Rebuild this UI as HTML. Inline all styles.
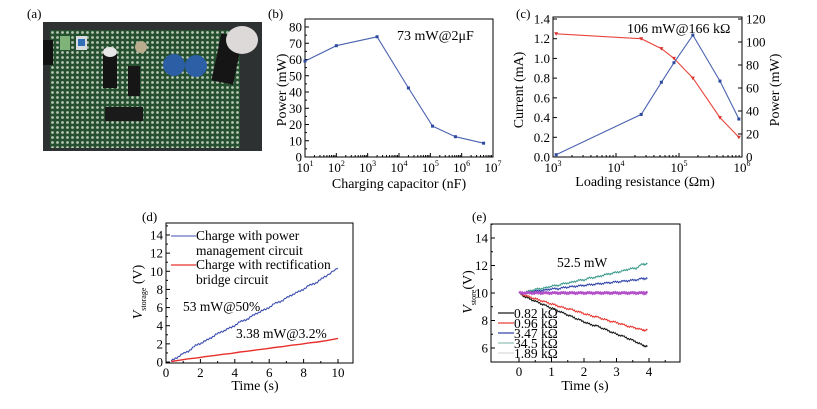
<!DOCTYPE html>
<html><head><meta charset="utf-8">
<style>
html,body{margin:0;padding:0;background:#fff;}
svg, svg text{font-family:"Liberation Serif","DejaVu Serif","Times New Roman",serif;}
</style></head>
<body>
<svg id="fig" width="817" height="404" viewBox="0 0 817 404" xmlns="http://www.w3.org/2000/svg" font-family="Liberation Serif, DejaVu Serif, serif">
  <defs>
    <pattern id="holes" width="5" height="5" patternUnits="userSpaceOnUse">
      <rect width="5" height="5" fill="#24502f"/>
      <circle cx="2.5" cy="2.5" r="1.4" fill="#b8c4b4"/>
    </pattern>
  </defs>
  <text x="27" y="18" font-size="13">(a)</text>
  <g>
    <rect x="43" y="22" width="219" height="129" fill="#2e3132"/>
    <rect x="50" y="30" width="190" height="118" fill="url(#holes)"/>
    <rect x="43" y="40" width="10" height="25" fill="#121212"/>
    <rect x="60" y="36" width="10" height="14" fill="#7fb37a"/>
    <rect x="76" y="36" width="11" height="14" fill="#d9dcdf"/>
    <rect x="78" y="39" width="7" height="7" fill="#2f6fb5"/>
    <rect x="103" y="50" width="14" height="38" fill="#141414"/>
    <ellipse cx="110" cy="52" rx="7" ry="5" fill="#e6e6e6"/>
    <ellipse cx="141" cy="47" rx="6" ry="6" fill="#b9ad8e"/>
    <rect x="105" y="107" width="38" height="14" fill="#1a1a1a"/>
    <circle cx="174" cy="65" r="11" fill="#2b5ea4"/>
    <circle cx="196" cy="66" r="11" fill="#2d5fa6"/>
    <rect x="216" y="35" width="22" height="48" fill="#151515" transform="rotate(12 227 60)"/>
    <ellipse cx="242" cy="40" rx="16" ry="14" fill="#ddd9d8"/>
    <rect x="128" y="66" width="12" height="30" fill="#161616"/>
  </g>
  <text x="268" y="18" font-size="13">(b)</text>
  <g id="gb"></g>
  <text x="516" y="18" font-size="13">(c)</text>
  <g id="gc"></g>
  <text x="142" y="221" font-size="13">(d)</text>
  <g id="gd"></g>
  <text x="472" y="221" font-size="13">(e)</text>
  <g id="ge"></g>
</svg>
<script>
const bCapLog = [1, 2, 3.3, 4.3, 5.07, 5.8, 6.7];
const bPower = [59, 68.5, 74, 42.5, 19, 12.5, 8.5];
const bYTicks = [0,10,20,30,40,50,60,70,80];
const bXTicks = [1,2,3,4,5,6,7];

const cResLog = [3.05, 4.4, 4.72, 4.92, 5.22, 5.65, 5.95];
const cCurrent = [1.25, 1.2, 1.1, 1.0, 0.8, 0.4, 0.2];
const cPower = [2, 37, 65, 82, 106, 66, 33];
const cYTicks = [0,0.2,0.4,0.6,0.8,1.0,1.2,1.4];
const cY2Ticks = [0,20,40,60,80,100,120];
const cXTicks = [3,4,5,6];

const dTime = [0.3,0.8,1.3,1.8,2.3,2.8,3.3,3.8,4.3,4.8,5.3,5.8,6.3,6.8,7.3,7.8,8.3,8.8,9.3,10];
const dPM = [0.1,0.7,1.2,1.9,2.3,2.9,3.4,3.8,4.4,4.8,5.4,5.8,6.4,6.8,7.4,7.8,8.4,8.8,9.5,10.3];
const dBridge = [0.05,0.2,0.35,0.45,0.6,0.7,0.85,0.95,1.1,1.2,1.35,1.45,1.6,1.7,1.85,1.95,2.1,2.2,2.35,2.6];
const dYTicks = [0,2,4,6,8,10,12,14];
const dXTicks = [0,2,4,6,8,10];

const eTime = [0,0.2,0.4,0.6,0.8,1,1.2,1.4,1.6,1.8,2,2.2,2.4,2.6,2.8,3,3.2,3.4,3.6,3.8,3.95];
const eTeal = [10,10.05,10.2,10.3,10.35,10.5,10.55,10.7,10.75,10.9,10.95,11.1,11.15,11.3,11.4,11.5,11.6,11.75,11.8,12.1,12.1];
const eBlue = [10,10.05,10.1,10.15,10.2,10.3,10.3,10.4,10.45,10.5,10.55,10.6,10.65,10.7,10.75,10.8,10.85,10.9,10.95,11.05,11.05];
const ePurple = [10,10,10,10,10,10,10,10,10,10,10,10,10,10,10,10,10,10,10,10,10];
const eRed = [10,9.8,9.65,9.5,9.35,9.2,9.05,8.9,8.8,8.65,8.5,8.35,8.25,8.1,7.95,7.85,7.7,7.55,7.45,7.3,7.3];
const eBlack = [10,9.7,9.5,9.3,9.1,8.9,8.7,8.5,8.3,8.1,7.9,7.7,7.6,7.4,7.2,7.0,6.85,6.65,6.45,6.2,6.1];
const eYTicks = [6,8,10,12,14];
const eXTicks = [0,1,2,3,4];
const eLegend = ["0.82 kΩ","0.96 kΩ","3.47 kΩ","34.5 kΩ","1.89 kΩ"];

const NS = "http://www.w3.org/2000/svg";
function mk(parent, tag, attrs, text){
  const e = document.createElementNS(NS, tag);
  for (const k in attrs) e.setAttribute(k, attrs[k]);
  if (text !== undefined) e.textContent = text;
  parent.appendChild(e);
  return e;
}
function lin(d0,d1,r0,r1){ return v => r0 + (v-d0)/(d1-d0)*(r1-r0); }
function pathD(xs, ys, sx, sy){ return xs.map((x,i)=>(i?'L':'M')+sx(x).toFixed(1)+','+sy(ys[i]).toFixed(1)).join(''); }
function noisyD(xs, ys, sx, sy, amp){
  let d = '';
  const pat = [0,-1,0.4,-0.6,1,-0.2,0.7,-0.9];
  let c = 0;
  for (let i=0;i<xs.length-1;i++){
    const n = 6;
    for (let k=0;k<n;k++){
      const t = k/n;
      const x = sx(xs[i]+(xs[i+1]-xs[i])*t);
      const y = sy(ys[i]+(ys[i+1]-ys[i])*t) + amp*pat[(c++)%pat.length];
      d += (d?'L':'M')+x.toFixed(1)+','+y.toFixed(1);
    }
  }
  d += 'L'+sx(xs[xs.length-1]).toFixed(1)+','+sy(ys[ys.length-1]).toFixed(1);
  return d;
}
function frame(g, x0,y0,x1,y1){
  const r = mk(g,'rect',{x:x0,y:y0,width:x1-x0,height:y1-y0,fill:'none',stroke:'#000','stroke-width':1});
  
  
}
function tickX(g, x, y, len){ mk(g,'line',{x1:x,y1:y,x2:x,y2:y-len,stroke:'#000','stroke-width':1}); }
function tickY(g, x, y, len){ mk(g,'line',{x1:x,y1:y,x2:x+len,y2:y,stroke:'#000','stroke-width':1}); }
function logLabel(g, x, y, p){
  const t = mk(g,'text',{x:x,y:y,'font-size':13,'text-anchor':'middle'});
  
  
  mk(t,'tspan',{},'10');
  mk(t,'tspan',{'font-size':8,dy:-6},String(p));
}
function marker(g,x,y,color,shape){
  if (shape==='tri'){
    mk(g,'path',{d:`M${x-2},${y-1.5}L${x+2},${y-1.5}L${x},${y+2}Z`,fill:color});
  } else {
    mk(g,'rect',{x:x-1.5,y:y-1.5,width:3,height:3,fill:color});
  }
}

(function(){
  const g = document.getElementById('gb');
  const x0=305,x1=493,y0=19,y1=157;
  const sx = lin(1,7,x0,x1), sy = lin(0,80,157,27);
  frame(g,x0,y0,x1,y1);
  bXTicks.forEach(v=>{ tickX(g,sx(v),y1,4); logLabel(g,sx(v),y1+15,v);
    if (v<7) for(let m=2;m<10;m++){ tickX(g,sx(v+Math.log10(m)),y1,2); } });
  bYTicks.forEach(v=>{ tickY(g,x0,sy(v),4);
    const t=mk(g,'text',{x:x0-3,y:sy(v)+4.5,'font-size':13,'text-anchor':'end'},String(v));
     
    if (v<80) tickY(g,x0,sy(v+5),2); });
  const p = mk(g,'path',{d:pathD(bCapLog,bPower,sx,sy),fill:'none',stroke:'#4a63b0','stroke-width':1.1});
   
  bCapLog.forEach((v,i)=>marker(g,sx(v),sy(bPower[i]),'#2d4a9e'));
  const a = mk(g,'text',{x:397,y:40,'font-size':14},'73 mW@2μF');
   
  const xt = mk(g,'text',{x:399,y:188,'font-size':14,'text-anchor':'middle'},'Charging capacitor (nF)');
   
  const yt = mk(g,'text',{x:0,y:0,'font-size':14,'text-anchor':'middle',transform:'translate(286,90) rotate(-90)'},'Power (mW)');
   
})();

(function(){
  const g = document.getElementById('gc');
  const x0=553,x1=742,y0=17,y1=157;
  const sx = lin(3,6,x0,x1), sy = lin(0,1.4,157,19), sy2 = lin(0,120,157,19);
  frame(g,x0,y0,x1,y1);
  cXTicks.forEach(v=>{ tickX(g,sx(v),y1,4); logLabel(g,sx(v),y1+15,v);
    if (v<6) for(let m=2;m<10;m++){ tickX(g,sx(v+Math.log10(m)),y1,2); } });
  cYTicks.forEach(v=>{ tickY(g,x0,sy(v),4);
    const t=mk(g,'text',{x:x0-3,y:sy(v)+4.5,'font-size':13,'text-anchor':'end'},v.toFixed(1));
      });
  cY2Ticks.forEach(v=>{ tickY(g,x1,sy2(v),-4);
    const t=mk(g,'text',{x:x1+4,y:sy2(v)+4.5,'font-size':13},String(v));
      });
  const pc = mk(g,'path',{d:pathD(cResLog,cCurrent,sx,sy),fill:'none',stroke:'#e8453c','stroke-width':1.1});
   
  cResLog.forEach((v,i)=>marker(g,sx(v),sy(cCurrent[i]),'#d8302a','tri'));
  const pp = mk(g,'path',{d:pathD(cResLog,cPower,sx,sy2),fill:'none',stroke:'#4a63b0','stroke-width':1.1});
   
  cResLog.forEach((v,i)=>marker(g,sx(v),sy2(cPower[i]),'#2d4a9e'));
  const a = mk(g,'text',{x:627,y:33,'font-size':14},'106 mW@166 kΩ');
   
  const xt = mk(g,'text',{x:645,y:186,'font-size':14,'text-anchor':'middle'},'Loading resistance (Ωm)');
   
  const yt = mk(g,'text',{x:0,y:0,'font-size':14,'text-anchor':'middle',transform:'translate(523,90) rotate(-90)'},'Current (mA)');
   
  const yt2 = mk(g,'text',{x:0,y:0,'font-size':14,'text-anchor':'middle',transform:'translate(779,90) rotate(-90)'},'Power (mW)');
   
})();

(function(){
  const g = document.getElementById('gd');
  const x0=166,x1=353,y0=223,y1=363;
  const sx = lin(0,10,x0,338), sy = lin(0,14,362,235);
  frame(g,x0,y0,x1,y1);
  dXTicks.forEach(v=>{ tickX(g,sx(v),y1,4); if(v<10) tickX(g,sx(v+1),y1,2);
    const t=mk(g,'text',{x:sx(v),y:y1+14,'font-size':13,'text-anchor':'middle'},String(v));
      });
  dYTicks.forEach(v=>{ tickY(g,x0,sy(v),4); tickY(g,x0,sy(v+1),2);
    const t=mk(g,'text',{x:x0-3,y:sy(v)+4.5,'font-size':13,'text-anchor':'end'},String(v));
      });
  const pb = mk(g,'path',{d:noisyD(dTime,dPM,sx,sy,1.0),fill:'none',stroke:'#3d4fb0','stroke-width':1.1});
   
  const pr = mk(g,'path',{d:pathD(dTime,dBridge,sx,sy),fill:'none',stroke:'#e8302c','stroke-width':1.4});
   
  mk(g,'line',{x1:171,y1:236,x2:196,y2:236,stroke:'#3d4fb0','stroke-width':1});
  mk(g,'line',{x1:171,y1:265,x2:196,y2:265,stroke:'#e8302c','stroke-width':1.3});
  [['Charge with power',240],['management circuit',255],['Charge with rectification',269],['bridge circuit',284]].forEach(r=>{
    const t=mk(g,'text',{x:196,y:r[1],'font-size':13.5},r[0]);
      });
  const a1 = mk(g,'text',{x:183,y:311,'font-size':13.5},'53 mW@50%');
   
  const a2 = mk(g,'text',{x:236,y:338,'font-size':13.5},'3.38 mW@3.2%');
   
  const xt = mk(g,'text',{x:255,y:390,'font-size':14,'text-anchor':'middle'},'Time (s)');
   
  const yt = mk(g,'text',{x:0,y:0,'font-size':14,'text-anchor':'middle',transform:'translate(142,292) rotate(-90)'});
   
  mk(yt,'tspan',{'font-style':'italic'},'V');
  mk(yt,'tspan',{'font-size':8,dy:4},'storage');
  mk(yt,'tspan',{dy:-4},' (V)');
})();

(function(){
  const g = document.getElementById('ge');
  const x0=491,x1=680,y0=224,y1=362;
  const sx = lin(0,4,519,649), sy = lin(6,14,348,238);
  frame(g,x0,y0,x1,y1);
  eXTicks.forEach(v=>{ tickX(g,sx(v),y1,4); tickX(g,sx(v+0.5),y1,2);
    const t=mk(g,'text',{x:sx(v),y:y1+14,'font-size':13,'text-anchor':'middle'},String(v));
      });
  eYTicks.forEach(v=>{ tickY(g,x0,sy(v),4); tickY(g,x0,sy(v+1),2);
    const t=mk(g,'text',{x:x0-3,y:sy(v)+4.5,'font-size':13,'text-anchor':'end'},String(v));
      });
  const series = [[eBlack,'#111','0.82'],[eRed,'#e8352e','0.96'],[eBlue,'#2c3fa6','3.47'],[eTeal,'#3a9a8a','34.5'],[ePurple,'#b24fc8','1.89']];
  series.forEach((s,i)=>{
    const p = mk(g,'path',{d:noisyD(eTime,s[0],sx,sy,i===4?0.8:1.0),fill:'none',stroke:s[1],'stroke-width':i===4?2.2:1});
     
  });
  const legCols = ['#111','#e8352e','#2c3fa6','#8fbfb5','#d8d8d8'];
  eLegend.forEach((lab,i)=>{
    const y = 313 + i*10;
    mk(g,'line',{x1:498,y1:y,x2:514,y2:y,stroke:legCols[i],'stroke-width':1.2});
    const t = mk(g,'text',{x:514,y:y+5,'font-size':13.5},lab);
     
  });
  const a = mk(g,'text',{x:557,y:267,'font-size':13.5},'52.5 mW');
   
  const xt = mk(g,'text',{x:585,y:390,'font-size':14,'text-anchor':'middle'},'Time (s)');
   
  const yt = mk(g,'text',{x:0,y:0,'font-size':14,'text-anchor':'middle',transform:'translate(472,292) rotate(-90)'});
   
  mk(yt,'tspan',{'font-style':'italic'},'V');
  mk(yt,'tspan',{'font-size':8,dy:4},'store');
  mk(yt,'tspan',{dy:-4},'(V)');
})();
</script>
</body></html>
